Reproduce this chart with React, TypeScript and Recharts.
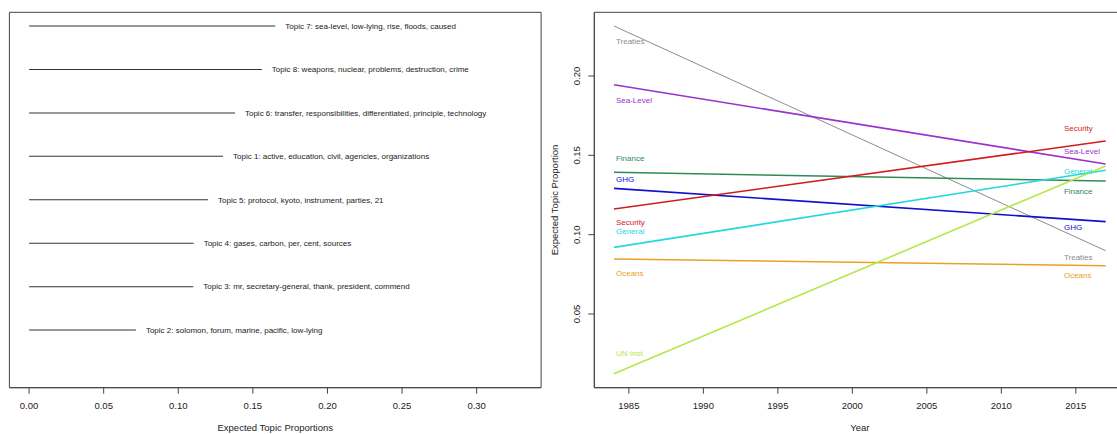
import React from 'react';
import { BarChart, ComposedChart, Bar, Line, Scatter, XAxis, YAxis, LabelList, Label, ReferenceArea } from 'recharts';

const FONT = '"Liberation Sans", Arial, Helvetica, sans-serif';
const INK = '#222';
const FRAME = '#444';

// left panel: expected topic proportions, listed top row first
const topicLabels = [
  'Topic 7: sea-level, low-lying, rise, floods, caused',
  'Topic 8: weapons, nuclear, problems, destruction, crime',
  'Topic 6: transfer, responsibilities, differentiated, principle, technology',
  'Topic 1: active, education, civil, agencies, organizations',
  'Topic 5: protocol, kyoto, instrument, parties, 21',
  'Topic 4: gases, carbon, per, cent, sources',
  'Topic 3: mr, secretary-general, thank, president, commend',
  'Topic 2: solomon, forum, marine, pacific, low-lying',
];
const topicProportions = [0.165, 0.156, 0.138, 0.13, 0.12, 0.1103, 0.1101, 0.0716];
const proportionTicks = [0, 0.05, 0.1, 0.15, 0.2, 0.25, 0.3];

// right panel: fitted topic proportion by year
const years = [1984, 2017];
const yearTicks = [1985, 1990, 1995, 2000, 2005, 2010, 2015];
const trendTicks = [0.05, 0.1, 0.15, 0.2];
const topicNames = ['Treaties', 'Sea-Level', 'Finance', 'GHG', 'Security', 'General', 'Oceans', 'UN Inst.'];
const topicColors = ['#8c8c8c', '#9932cc', '#2e8b57', '#1010cd', '#d01c1c', '#22d8de', '#eaa020', '#b4e84a'];
const startValues = [0.2315, 0.1945, 0.1393, 0.1292, 0.1162, 0.092, 0.0847, 0.0124];
const endValues = [0.0899, 0.1445, 0.1338, 0.1082, 0.159, 0.1406, 0.0804, 0.1433];
const leftLabelValues = [0.2219, 0.1849, 0.1485, 0.1351, 0.1078, 0.1025, 0.0756, 0.0252];
const rightLabelValues = [0.0859, 0.1523, 0.1275, 0.105, 0.167, 0.1401, 0.0744, null];
const leftLabelYear = 1984;
const rightLabelYear = 2014;

const barRows = topicLabels.map((label, i) => ({
  label,
  proportion: topicProportions[i],
  pos: topicLabels.length - i,
}));

const lineRows = years.map((year, i) => {
  const row: Record<string, number> = { year };
  topicNames.forEach((_, k) => {
    row['s' + k] = i === 0 ? startValues[k] : endValues[k];
  });
  return row;
});

const labelRows = topicNames.flatMap((name, k) => {
  const rows = [{ year: leftLabelYear, value: leftLabelValues[k], name, color: topicColors[k], dx: 2 }];
  if (rightLabelValues[k] != null) {
    rows.push({ year: rightLabelYear, value: rightLabelValues[k] as number, name, color: topicColors[k], dx: 3 });
  }
  return rows;
});

const BottomTick = ({ x, y, payload, digits }: any) => (
  <text x={x} y={y} dy="0.35em" textAnchor="middle" fontSize={9.5} fontFamily={FONT} fill={INK}>
    {digits != null ? Number(payload.value).toFixed(digits) : payload.value}
  </text>
);

const LeftTick = ({ x, y, payload }: any) => (
  <text
    x={x}
    y={y}
    dy="0.35em"
    textAnchor="middle"
    fontSize={9.5}
    fontFamily={FONT}
    fill={INK}
    transform={`rotate(-90, ${x}, ${y})`}
  >
    {Number(payload.value).toFixed(2)}
  </text>
);

const TopicLabel = ({ x, y, width, height, value }: any) => (
  <text x={x + width + 10} y={y + height / 2} dy="0.35em" fontSize={8} fontFamily={FONT} fill={INK}>
    {value}
  </text>
);

const TextMark = ({ cx, cy, payload }: any) => (
  <text x={cx + payload.dx} y={cy} dy="0.35em" fontSize={8} fontFamily={FONT} fill={payload.color}>
    {payload.name}
  </text>
);

const xTitle = (text: string) => ({ viewBox }: any) => (
  <text
    x={viewBox.x + viewBox.width / 2}
    y={viewBox.y + 40}
    dy="0.35em"
    textAnchor="middle"
    fontSize={9.5}
    fontFamily={FONT}
    fill={INK}
  >
    {text}
  </text>
);

const yTitle = (text: string) => ({ viewBox }: any) => {
  const cx = viewBox.x;
  const cy = viewBox.y + viewBox.height / 2;
  return (
    <text
      x={cx}
      y={cy}
      dy="0.35em"
      textAnchor="middle"
      fontSize={9.5}
      fontFamily={FONT}
      fill={INK}
      transform={`rotate(-90, ${cx}, ${cy})`}
    >
      {text}
    </text>
  );
};

const frameLine = { stroke: FRAME, strokeWidth: 1 };

function ProportionPanel() {
  const domain: [number, number] = [-0.0132, 0.3432];
  const posDomain: [number, number] = [-0.32, 8.32];
  return (
    <BarChart
      layout="vertical"
      width={545}
      height={434}
      data={barRows}
      margin={{ top: 12.3, right: 3.9, bottom: 6.3, left: 9.4 }}
    >
      <XAxis
        type="number"
        dataKey="proportion"
        domain={domain}
        allowDataOverflow
        ticks={proportionTicks}
        interval={0}
        height={40}
        axisLine={frameLine}
        tickLine={frameLine}
        tickSize={6}
        tickMargin={12}
        tick={<BottomTick digits={2} />}
      >
        <Label content={xTitle('Expected Topic Proportions')} />
      </XAxis>
      <YAxis type="number" dataKey="pos" domain={posDomain} allowDataOverflow reversed width={0} tick={false} tickLine={false} axisLine={false} />
      <ReferenceArea
        x1={domain[0]}
        x2={domain[1]}
        y1={posDomain[0]}
        y2={posDomain[1]}
        fill="none"
        stroke={FRAME}
        strokeWidth={1}
        ifOverflow="visible"
      />
      <Bar dataKey="proportion" fill="#333" barSize={1} isAnimationActive={false}>
        <LabelList dataKey="label" content={<TopicLabel />} />
      </Bar>
    </BarChart>
  );
}

function TrendPanel() {
  const domain: [number, number] = [1982.68, 2018.32];
  const yDomain: [number, number] = [0.00355, 0.24015];
  return (
    <ComposedChart
      width={600}
      height={434}
      data={lineRows}
      margin={{ top: 12.3, right: 19.7, bottom: 6.3, left: 9.3 }}
    >
      <XAxis
        type="number"
        dataKey="year"
        domain={domain}
        allowDataOverflow
        ticks={yearTicks}
        interval={0}
        height={40}
        axisLine={frameLine}
        tickLine={frameLine}
        tickSize={6}
        tickMargin={12}
        tick={<BottomTick />}
      >
        <Label content={xTitle('Year')} />
      </XAxis>
      <YAxis
        type="number"
        domain={yDomain}
        allowDataOverflow
        ticks={trendTicks}
        interval={0}
        width={40}
        axisLine={frameLine}
        tickLine={frameLine}
        tickSize={6}
        tickMargin={12}
        tick={<LeftTick />}
      >
        <Label content={yTitle('Expected Topic Proportion')} />
      </YAxis>
      <ReferenceArea
        x1={domain[0]}
        x2={domain[1]}
        y1={yDomain[0]}
        y2={yDomain[1]}
        fill="none"
        stroke={FRAME}
        strokeWidth={1}
        ifOverflow="visible"
      />
      {topicNames.map((name, k) => (
        <Line
          key={name}
          dataKey={'s' + k}
          name={name}
          type="linear"
          stroke={topicColors[k]}
          strokeWidth={k === 0 ? 1 : 1.6}
          dot={false}
          activeDot={false}
          isAnimationActive={false}
        />
      ))}
      <Scatter data={labelRows} dataKey="value" shape={<TextMark />} isAnimationActive={false} />
    </ComposedChart>
  );
}

export default function App() {
  return (
    <div
      style={{
        position: 'fixed',
        left: 0,
        top: 0,
        width: 1117,
        height: 434,
        overflow: 'hidden',
        background: '#fff',
      }}
    >
      <div style={{ position: 'absolute', left: 0, top: 0 }}>
        <ProportionPanel />
      </div>
      <div style={{ position: 'absolute', left: 545, top: 0 }}>
        <TrendPanel />
      </div>
    </div>
  );
}
